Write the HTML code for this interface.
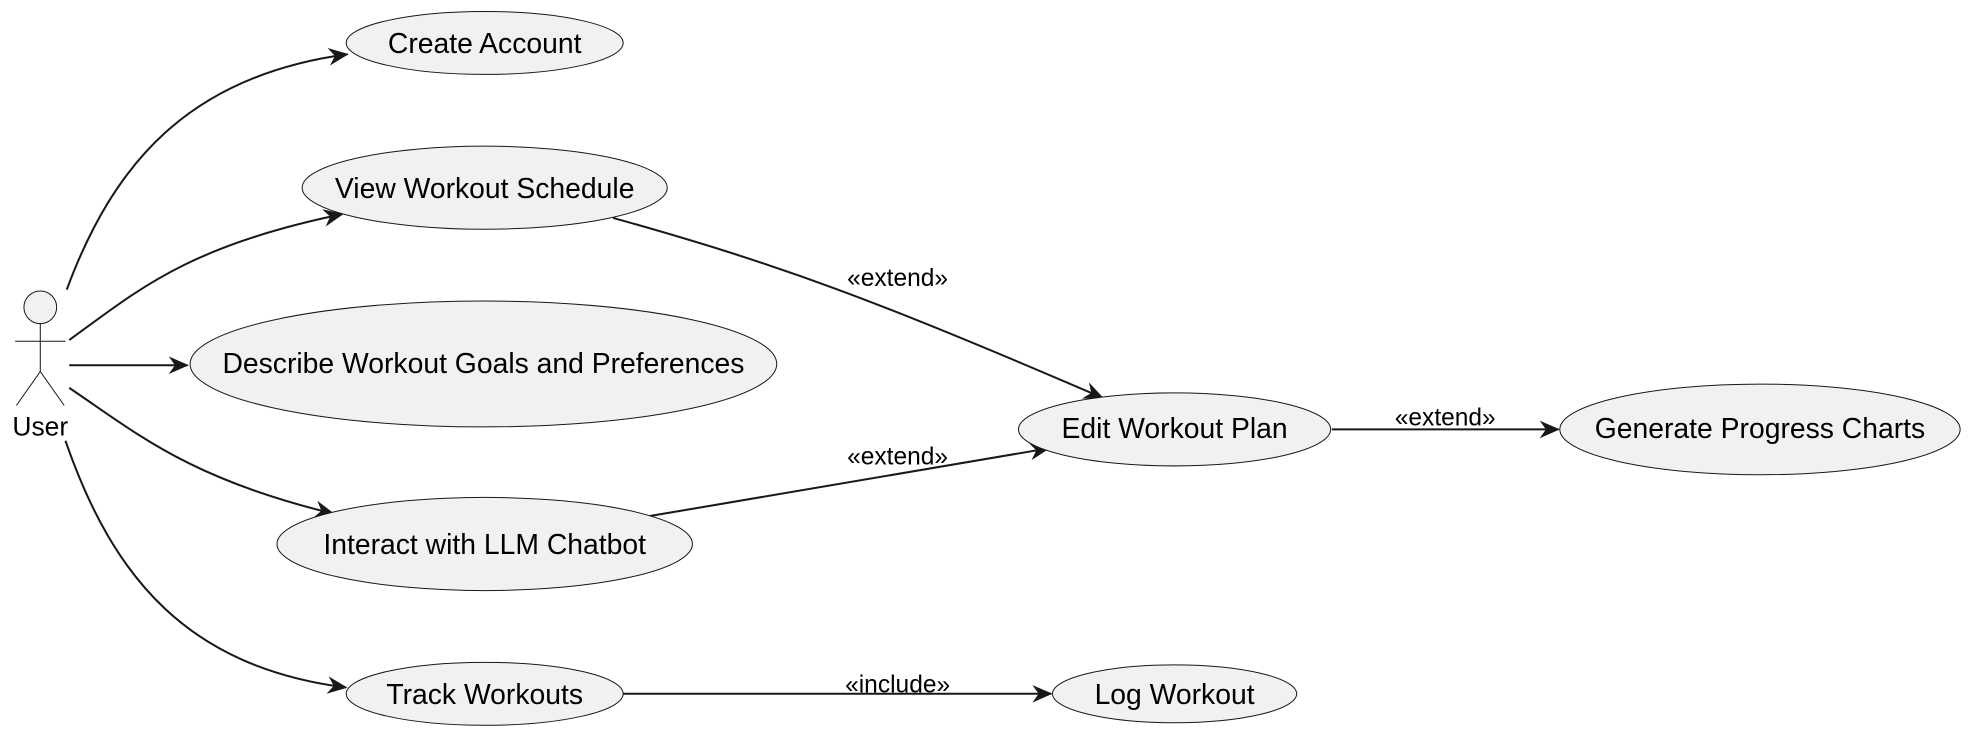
<!DOCTYPE html>
<html><head><meta charset="utf-8"><style>
html,body{margin:0;padding:0;background:#fff;}
svg{display:block;}
text{font-family:"Liberation Sans",Arial,sans-serif;fill:#000;}
</style></head><body>
<svg width="1974" height="738" viewBox="0 0 1568 586" xmlns="http://www.w3.org/2000/svg">
<defs>
<marker id="a" viewBox="0 0 16 14" refX="15" refY="7" markerWidth="16" markerHeight="14" markerUnits="userSpaceOnUse" orient="auto">
<path d="M0,0 L16,7 L0,14 L5,7 z" fill="#181818"/>
</marker>
</defs>
<g fill="none" stroke="#181818" stroke-width="1.6" marker-end="url(#a)">
<path d="M53,230 C90,130 150,60 276,43"/>
<path d="M55,270 C110,230 150,195 272,170"/>
<path d="M55,290 L149,290"/>
<path d="M55,308 C110,345 150,380 265,408"/>
<path d="M52,350 C90,460 150,530 275,546"/>
<path d="M487,173 C620,210 700,240 876,316"/>
<path d="M515,410 L833,356"/>
<path d="M1058,341 L1238,341"/>
<path d="M495,551 L835,551"/>
</g>
<g fill="#f1f1f1" stroke="#181818" stroke-width="0.8">
<ellipse cx="385" cy="34" rx="110" ry="25"/>
<ellipse cx="385" cy="149" rx="145" ry="33"/>
<ellipse cx="384" cy="289" rx="233" ry="50"/>
<ellipse cx="385" cy="432" rx="165" ry="37"/>
<ellipse cx="385" cy="551" rx="110" ry="25"/>
<ellipse cx="933" cy="341" rx="124" ry="29"/>
<ellipse cx="1398" cy="341" rx="159" ry="36"/>
<ellipse cx="933" cy="551" rx="97" ry="23"/>
</g>
<g font-size="22.5" text-anchor="middle">
<text x="385" y="42">Create Account</text>
<text x="385" y="157">View Workout Schedule</text>
<text x="384" y="296">Describe Workout Goals and Preferences</text>
<text x="385" y="440">Interact with LLM Chatbot</text>
<text x="385" y="559">Track Workouts</text>
<text x="933" y="348">Edit Workout Plan</text>
<text x="1398" y="348">Generate Progress Charts</text>
<text x="933" y="559">Log Workout</text>
</g>
<g font-size="19.5" text-anchor="middle">
<text x="713" y="227">«extend»</text>
<text x="713" y="369">«extend»</text>
<text x="1148" y="338">«extend»</text>
<text x="713" y="550">«include»</text>
</g>
<g stroke="#181818" stroke-width="0.8" fill="none">
<circle cx="32" cy="244" r="13" fill="#f1f1f1"/>
<line x1="32" y1="257" x2="32" y2="295"/>
<line x1="12" y1="271" x2="52" y2="271"/>
<line x1="32" y1="295" x2="13" y2="322"/>
<line x1="32" y1="295" x2="51" y2="322"/>
</g>
<text x="32" y="346" font-size="21" text-anchor="middle">User</text>
</svg>
</body></html>
